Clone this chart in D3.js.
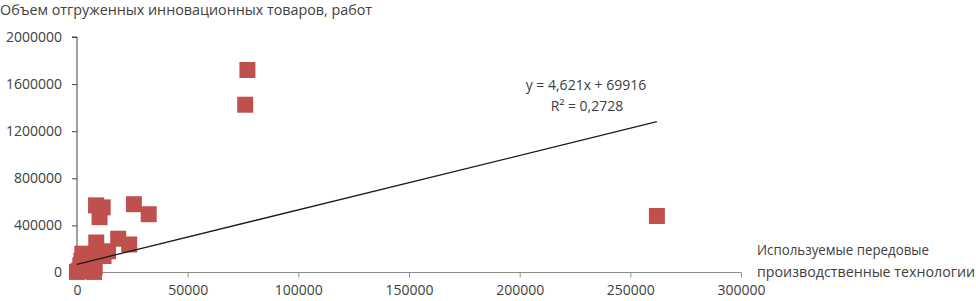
<!DOCTYPE html>
<html>
<head>
<meta charset="utf-8">
<script src="https://cdn.jsdelivr.net/npm/d3@7/dist/d3.min.js"></script>
<style>
  html, body { margin: 0; padding: 0; background: #fff; }
  svg { display: block; }
  text { font-family: "Open Sans", "Noto Sans", sans-serif; fill: #404040; }
</style>
</head>
<body>
<svg id="chart" width="976" height="301"></svg>
<script>
// Data: x = используемые передовые производственные технологии, y = объем отгруженных инновационных товаров
const xValues = [0, 800, 1500, 3000, 5000, 7500, 7700, 8000, 2000, 4000, 2400, 5900, 9000, 12000, 14000, 8700, 18600, 23600, 10200, 8600, 11600, 25700, 32400, 76000, 77000, 262000];
const yValues = [5000, 15000, 60000, 30000, 10000, 20000, 5000, 45000, 100000, 130000, 160000, 102000, 150000, 140000, 180000, 255000, 287000, 238000, 470000, 570000, 553000, 580000, 495000, 1425000, 1720000, 480000];
const xTicks = [0, 50000, 100000, 150000, 200000, 250000, 300000];
const yTicks = [0, 400000, 800000, 1200000, 1600000, 2000000];
const trendSlope = 4.621;
const trendIntercept = 69916;
const trendLabel = ["y = 4,621x + 69916", "R² = 0,2728"];
const yTitle = "Объем отгруженных инновационных товаров, работ";
const xTitle = ["Используемые передовые", "производственные технологии"];

const svg = d3.select("#chart");
const x = d3.scaleLinear().domain([0, 300000]).range([77, 741]);
const y = d3.scaleLinear().domain([0, 2000000]).range([272.5, 37]);

// Y axis
const yAxis = d3.axisLeft(y).tickValues(yTicks).tickSize(5).tickPadding(10).tickFormat(d3.format("d"));
const gy = svg.append("g").attr("transform", "translate(77,0)").call(yAxis);
gy.select(".domain").attr("stroke", "#404040").attr("d", `M-5,${y(2000000)}H0V${y(0)}`);
gy.selectAll(".tick line").attr("stroke", "#404040");
gy.selectAll(".tick text").style("font-size", "14px").attr("fill", "#404040")
  .style("font-family", '"Open Sans", sans-serif');

// X axis
const xAxis = d3.axisBottom(x).tickValues(xTicks).tickSize(5).tickPadding(8).tickFormat(d3.format("d"));
const gx = svg.append("g").attr("transform", `translate(0,${y(0)})`).call(xAxis);
gx.select(".domain").attr("stroke", "#8c8c8c").attr("d", `M${x(0)},0H${x(300000)}`);
gx.selectAll(".tick line").attr("stroke", "#8c8c8c");
gx.selectAll(".tick text").style("font-size", "14px").attr("fill", "#404040")
  .style("font-family", '"Open Sans", sans-serif');

// Points
const pts = xValues.map((v, i) => ({x: v, y: yValues[i]}));
const s = 16;
svg.append("g").selectAll("rect").data(pts).join("rect")
  .attr("x", d => x(d.x) - s / 2)
  .attr("y", d => y(d.y) - s / 2)
  .attr("width", s).attr("height", s)
  .attr("fill", "#c0504d");

// Trend line
const xMin = d3.min(xValues), xMax = d3.max(xValues);
svg.append("line")
  .attr("x1", x(xMin)).attr("y1", y(trendSlope * xMin + trendIntercept))
  .attr("x2", x(xMax)).attr("y2", y(trendSlope * xMax + trendIntercept))
  .attr("stroke", "#1a1a1a").attr("stroke-width", 1.3);

// Trend label
svg.append("text").attr("x", 586).attr("y", 90).attr("text-anchor", "middle")
  .style("font-size", "14px").text(trendLabel[0]);
svg.append("text").attr("x", 587).attr("y", 111).attr("text-anchor", "middle")
  .style("font-size", "14px").text(trendLabel[1]);

// Titles
svg.append("text").attr("x", 0).attr("y", 15).style("font-size", "14px")
  .attr("textLength", 372).attr("lengthAdjust", "spacingAndGlyphs").text(yTitle);
svg.append("text").attr("x", 757).attr("y", 255).style("font-size", "14px")
  .attr("textLength", 172).attr("lengthAdjust", "spacingAndGlyphs").text(xTitle[0]);
svg.append("text").attr("x", 757).attr("y", 277).style("font-size", "14px")
  .attr("textLength", 218).attr("lengthAdjust", "spacingAndGlyphs").text(xTitle[1]);
</script>
</body>
</html>
